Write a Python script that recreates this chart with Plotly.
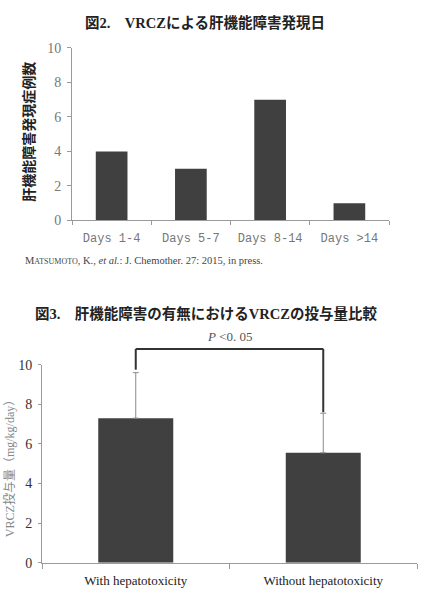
import plotly.graph_objects as go

# ---- Data ----
onset_categories = ["Days 1-4", "Days 5-7", "Days 8-14", "Days >14"]
onset_counts = [4, 3, 7, 1]

dose_groups = ["With hepatotoxicity", "Without hepatotoxicity"]
dose_means = [7.3, 5.55]
dose_sd = [2.3, 2.0]

y1_ticks = [0, 2, 4, 6, 8, 10]
y2_ticks = [0, 2, 4, 6, 8, 10]

title1 = "図2.　VRCZによる肝機能障害発現日"
title2 = "図3.　肝機能障害の有無におけるVRCZの投与量比較"
ytitle1 = "肝機能障害発現症例数"
ytitle2 = "VRCZ投与量（mg/kg/day）"
pval_text = "<i>P</i> &lt;0. 05"
citation = ("M<span style='font-size:8px'>ATSUMOTO</span>, K., <i>et al.</i>: "
            "J. Chemother. 27: 2015, in press.")

BAR = "#404040"
SERIF = "Liberation Serif, Noto Sans CJK JP"
CJK = "Noto Sans CJK JP"

fig = go.Figure()

fig.add_trace(go.Bar(
    x=onset_categories, y=onset_counts, xaxis="x", yaxis="y",
    marker=dict(color=BAR, line=dict(width=0)), width=0.4,
))

fig.add_trace(go.Bar(
    x=dose_groups, y=dose_means, xaxis="x2", yaxis="y2",
    marker=dict(color=BAR, line=dict(width=0)), width=0.4,
    error_y=dict(type="data", symmetric=False, array=dose_sd,
                 arrayminus=[0] * len(dose_sd),
                 color="#8a8a8a", thickness=1, width=3),
))

common = dict(showline=True, linecolor="#9a9a9a", linewidth=1,
              showgrid=False, zeroline=False, ticks="outside",
              tickcolor="#9a9a9a")

fig.update_layout(
    width=424, height=595,
    margin=dict(l=0, r=0, t=0, b=0),
    paper_bgcolor="white", plot_bgcolor="white",
    showlegend=False, hovermode=False,
    xaxis=dict(domain=[72 / 424, 389 / 424], anchor="y", type="category",
               tickson="boundaries", ticklen=4, ticklabelstandoff=6,
               tickfont=dict(family="Liberation Mono", size=12, color="#777777"),
               **common),
    yaxis=dict(domain=[1 - 219 / 595, 1 - 42 / 595], anchor="x",
               range=[0, 10], tickvals=y1_ticks, ticklen=4, ticklabelstandoff=3,
               tickfont=dict(family="Liberation Serif", size=14, color="#777777"),
               **common),
    xaxis2=dict(domain=[42 / 424, 417 / 424], anchor="y2", type="category",
                tickson="boundaries", ticklen=5, ticklabelstandoff=6,
                tickfont=dict(family="Liberation Serif", size=13, color="#222222"),
                **common),
    yaxis2=dict(domain=[1 - 570 / 595, 1 - 367 / 595], anchor="x2",
                range=[0, 10], tickvals=y2_ticks, ticklen=3, ticklabelstandoff=3,
                tickfont=dict(family="Liberation Serif", size=14, color="#333333"),
                **common),
)

def pann(text, x, y, size, family, color, angle=0, xanchor="center"):
    return dict(text=text, x=x / 424, y=1 - y / 595, xref="paper", yref="paper",
                showarrow=False, textangle=angle, xanchor=xanchor, yanchor="middle",
                font=dict(family=family, size=size, color=color))

ann = [
    pann("<b>" + title1 + "</b>", 205, 16, 14.5, SERIF, "#222222"),
    pann("<b>" + title2 + "</b>", 206, 314, 14.5, SERIF, "#222222"),
    pann("<b>" + ytitle1 + "</b>", 28, 128, 14, CJK, "#222222", angle=-90),
    pann(ytitle2, 9, 471, 12, SERIF, "#888888", angle=-90),
    pann(citation, 23, 260, 10.5, "Liberation Serif", "#444444", xanchor="left"),
]

# bracket above the two bars, from data (domain fractions)
n = len(dose_groups)
ymax = 10
bracket_top = 10.8
xa = (0 + 0.5) / n
xb = (1 + 0.5) / n
ya = (dose_means[0] + dose_sd[0] + 0.15) / ymax
yb = (dose_means[1] + dose_sd[1] + 0.05) / ymax
yt = bracket_top / ymax
line = dict(color="#333333", width=2)
shapes = [
    dict(type="line", xref="x2 domain", yref="y2 domain", x0=xa, x1=xa, y0=ya, y1=yt, line=line),
    dict(type="line", xref="x2 domain", yref="y2 domain", x0=xa, x1=xb, y0=yt, y1=yt, line=line),
    dict(type="line", xref="x2 domain", yref="y2 domain", x0=xb, x1=xb, y0=yb, y1=yt, line=line),
]
ann.append(dict(text=pval_text, x=0.5, y=(bracket_top + 0.65) / ymax,
                xref="x2 domain", yref="y2 domain", showarrow=False,
                xanchor="center", yanchor="middle",
                font=dict(family=SERIF, size=13, color="#555555")))

fig.update_layout(annotations=ann, shapes=shapes)

fig.write_html("out.html")
